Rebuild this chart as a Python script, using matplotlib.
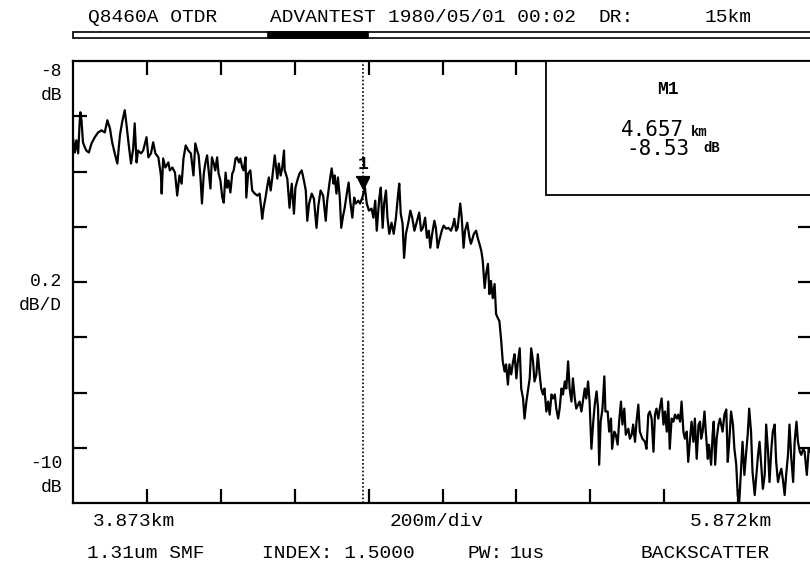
import matplotlib
matplotlib.use("Agg")
import matplotlib.pyplot as plt
from matplotlib.patches import Rectangle

# OTDR trace (distance in km, level in dB)
dist_km = [
    3.873, 3.878, 3.882, 3.887, 3.891, 3.893, 3.896, 3.900, 3.905, 3.909,
    3.916, 3.923, 3.932, 3.941, 3.950, 3.959, 3.966, 3.973, 3.979, 3.986,
    3.993, 4.000, 4.006, 4.013, 4.018, 4.024, 4.030, 4.036, 4.040, 4.045,
    4.049, 4.057, 4.063, 4.072, 4.077, 4.084, 4.090, 4.096, 4.104, 4.111,
    4.113, 4.117, 4.123, 4.131, 4.135, 4.142, 4.149, 4.155, 4.161, 4.167,
    4.172, 4.178, 4.185, 4.192, 4.199, 4.204,
    4.209, 4.213, 4.218, 4.222, 4.227, 4.231, 4.236, 4.240, 4.245, 4.249,
    4.254, 4.258, 4.263, 4.267, 4.272, 4.277, 4.281, 4.286, 4.290, 4.294,
    4.299, 4.304, 4.308, 4.313, 4.317, 4.322, 4.326, 4.331, 4.335, 4.340,
    4.342, 4.347, 4.353, 4.358, 4.365, 4.372, 4.378, 4.383, 4.385, 4.389,
    4.394, 4.399, 4.403, 4.408, 4.412, 4.419, 4.426, 4.430, 4.435, 4.439,
    4.444, 4.446, 4.453, 4.459, 4.465, 4.471, 4.475, 4.480, 4.486, 4.492,
    4.498, 4.503, 4.507, 4.512, 4.519, 4.525, 4.532, 4.537, 4.543, 4.550,
    4.557, 4.561, 4.568, 4.573, 4.578, 4.581, 4.586, 4.590, 4.595, 4.599,
    4.604, 4.608, 4.614, 4.619, 4.623, 4.629, 4.634, 4.638, 4.645, 4.650,
    4.656, 4.663, 4.668, 4.674, 4.681, 4.686, 4.691, 4.695, 4.702, 4.706,
    4.711, 4.715, 4.720, 4.724, 4.729, 4.735, 4.741, 4.747, 4.753, 4.756,
    4.760, 4.765, 4.769, 4.774, 4.780, 4.786, 4.791, 4.797, 4.804, 4.810,
    4.815, 4.820, 4.826, 4.831, 4.836, 4.840, 4.845, 4.851, 4.855, 4.860,
    4.864, 4.871, 4.876, 4.883, 4.889, 4.896, 4.901, 4.905, 4.910, 4.914,
    4.921, 4.925, 4.930, 4.934, 4.940, 4.946, 4.950, 4.958, 4.964, 4.969,
    4.973, 4.978, 4.982, 4.987, 4.991, 4.996, 5.000, 5.004, 5.009, 5.014,
    5.018, 5.023, 5.027, 5.032, 5.036, 5.041, 5.045, 5.050, 5.054, 5.059,
    5.064, 5.068, 5.073, 5.077, 5.082, 5.086, 5.091, 5.095, 5.100, 5.104,
    5.109, 5.113, 5.118, 5.122, 5.127, 5.131, 5.136, 5.140, 5.145, 5.149,
    5.154, 5.159, 5.163, 5.168, 5.172, 5.177, 5.181, 5.186, 5.190, 5.195,
    5.199, 5.204, 5.208, 5.213, 5.217, 5.222, 5.226, 5.231, 5.235, 5.240,
    5.244, 5.249, 5.258, 5.262, 5.267, 5.271,
    5.276, 5.281, 5.285, 5.290, 5.294, 5.297, 5.301, 5.306, 5.311, 5.314,
    5.320, 5.324, 5.329, 5.332, 5.338, 5.342, 5.347, 5.351, 5.356, 5.360,
    5.365, 5.369, 5.376, 5.380, 5.385, 5.389, 5.394, 5.398, 5.403, 5.407,
    5.414, 5.421, 5.425, 5.430, 5.434, 5.439, 5.444, 5.448, 5.452, 5.457,
    5.461, 5.466, 5.471, 5.475, 5.480, 5.484, 5.488, 5.493, 5.498, 5.502,
    5.507, 5.511, 5.516, 5.520, 5.525, 5.529, 5.534, 5.538, 5.543, 5.547,
    5.552, 5.556, 5.561, 5.566, 5.570,
    5.573, 5.577, 5.582, 5.585, 5.591, 5.594, 5.600, 5.604, 5.607, 5.611,
    5.615, 5.620, 5.624, 5.631, 5.636, 5.641, 5.645, 5.649, 5.654, 5.659,
    5.663, 5.668, 5.672, 5.676, 5.681, 5.685, 5.690, 5.695, 5.699, 5.703,
    5.708, 5.712, 5.718, 5.721, 5.727, 5.731, 5.735, 5.740, 5.745, 5.749,
    5.754, 5.758, 5.763, 5.767, 5.772, 5.776, 5.781, 5.785, 5.790, 5.794,
    5.799, 5.803, 5.808, 5.812, 5.817, 5.822, 5.826, 5.831, 5.835, 5.840,
    5.844, 5.849, 5.853, 5.859, 5.864, 5.868,
]
level_db = [
    -8.350, -8.414, -8.359, -8.418, -8.277, -8.232, -8.268, -8.368, -8.391, -8.405,
    -8.414, -8.373, -8.345, -8.323, -8.314, -8.323, -8.268, -8.305, -8.368, -8.418,
    -8.464, -8.336, -8.277, -8.223, -8.291, -8.382, -8.464, -8.395, -8.282, -8.459,
    -8.405, -8.418, -8.405, -8.345, -8.436, -8.418, -8.368, -8.418, -8.436, -8.518,
    -8.600, -8.441, -8.482, -8.459, -8.495, -8.482, -8.505, -8.609, -8.518, -8.555,
    -8.441, -8.382, -8.405, -8.418, -8.518, -8.373,
    -8.405, -8.427, -8.527, -8.645, -8.509, -8.464, -8.427, -8.495, -8.577, -8.436,
    -8.464, -8.495, -8.436, -8.509, -8.541, -8.618, -8.641, -8.505, -8.573, -8.541,
    -8.595, -8.509, -8.495, -8.441, -8.436, -8.459, -8.441, -8.482, -8.495, -8.436,
    -8.618, -8.509, -8.495, -8.586, -8.600, -8.609, -8.600, -8.677, -8.714, -8.664,
    -8.618, -8.564, -8.527, -8.586, -8.532, -8.427, -8.532, -8.464, -8.518, -8.486,
    -8.405, -8.495, -8.532, -8.664, -8.555, -8.691, -8.573, -8.541, -8.509, -8.495,
    -8.541, -8.586, -8.723, -8.645, -8.600, -8.623, -8.755, -8.655, -8.586, -8.609,
    -8.723, -8.632, -8.541, -8.486, -8.555, -8.518, -8.600, -8.527, -8.618, -8.755,
    -8.700, -8.668, -8.600, -8.550, -8.632, -8.709, -8.618, -8.645, -8.632, -8.645,
    -8.618, -8.573, -8.645, -8.677, -8.668, -8.709, -8.632, -8.768, -8.618, -8.573,
    -8.755, -8.645, -8.586, -8.709, -8.782, -8.732, -8.782, -8.709, -8.600, -8.555,
    -8.691, -8.736, -8.891, -8.782, -8.736, -8.677, -8.709, -8.768, -8.723, -8.686,
    -8.768, -8.755, -8.709, -8.800, -8.768, -8.845, -8.782, -8.723, -8.755, -8.845,
    -8.814, -8.768, -8.745, -8.759, -8.755, -8.768, -8.745, -8.714, -8.768, -8.755,
    -8.645, -8.709, -8.845, -8.768, -8.732, -8.800, -8.827, -8.782, -8.768, -8.805,
    -8.827, -8.859, -8.905, -9.027, -8.964, -8.918, -9.055, -8.995, -9.073, -9.009,
    -9.145, -9.164, -9.177, -9.268, -9.359, -9.405, -9.373, -9.464, -9.373, -9.418,
    -9.359, -9.327, -9.436, -9.359, -9.300, -9.482, -9.527, -9.618, -9.541, -9.495,
    -9.436, -9.300, -9.359, -9.450, -9.418, -9.327, -9.418, -9.482, -9.509, -9.482,
    -9.586, -9.541, -9.600, -9.509, -9.527, -9.509, -9.573, -9.618, -9.573, -9.482,
    -9.509, -9.450, -9.482, -9.359, -9.482, -9.541, -9.436, -9.527, -9.573, -9.555,
    -9.541, -9.586, -9.482, -9.527, -9.450, -9.541,
    -9.755, -9.632, -9.555, -9.495, -9.573, -9.827, -9.632, -9.573, -9.427, -9.586,
    -9.586, -9.677, -9.618, -9.755, -9.677, -9.691, -9.736, -9.632, -9.541, -9.645,
    -9.573, -9.691, -9.664, -9.709, -9.691, -9.645, -9.723, -9.632, -9.555, -9.677,
    -9.709, -9.723, -9.755, -9.600, -9.586, -9.618, -9.768, -9.600, -9.573, -9.618,
    -9.573, -9.527, -9.645, -9.586, -9.677, -9.541, -9.755, -9.618, -9.632, -9.600,
    -9.618, -9.600, -9.632, -9.541, -9.677, -9.709, -9.677, -9.814, -9.709, -9.632,
    -9.723, -9.618, -9.800, -9.645, -9.632,
    -9.709, -9.677, -9.586, -9.664, -9.800, -9.736, -9.827, -9.691, -9.632, -9.827,
    -9.709, -9.645, -9.618, -9.677, -9.600, -9.577, -9.814, -9.723, -9.586, -9.645,
    -9.755, -9.827, -9.964, -10.000, -9.845, -9.723, -9.873, -9.768, -9.691, -9.573,
    -9.677, -9.859, -9.964, -9.905, -9.782, -9.723, -9.814, -9.936, -9.873, -9.645,
    -9.768, -9.905, -9.755, -9.677, -9.645, -9.814, -9.905, -9.873, -9.845, -9.891,
    -9.964, -9.873, -9.782, -9.645, -9.800, -9.905, -9.723, -9.632, -9.723, -9.768,
    -9.782, -9.755, -9.768, -9.873, -9.755, -9.768,
]

x_start_km = 3.873
x_span_km = 2.0
div_km = 0.2
y_top_db = -8.0
y_bottom_db = -10.0
div_db = 0.25

marker_km = 4.657
marker_db = -8.53

W, H = 810, 569
MONO = ["Liberation Mono", "DejaVu Sans Mono"]


def fx(px):
    return px / W


def fy(py):
    return 1 - py / H


fig = plt.figure(figsize=(W / 100, H / 100), dpi=100)
fig.patch.set_facecolor("white")

# plot window: left edge x=73, top y=61, bottom y=503, runs off the right side
ax = fig.add_axes([fx(73), fy(503), fx(739), (503 - 61) / H])
ax.plot(dist_km, level_db, color="black", lw=1.6, zorder=3)
ax.set_xlim(x_start_km, x_start_km + x_span_km)
ax.set_ylim(y_bottom_db, y_top_db)

ax.set_xticks([x_start_km + div_km * k for k in range(1, 10)])
ax.set_yticks([y_bottom_db + div_db * k for k in range(1, 8)])
ax.tick_params(axis="both", direction="in", length=10, width=1.6,
               top=True, right=True, labelbottom=False, labelleft=False)
for side in ["left", "bottom", "top"]:
    ax.spines[side].set_linewidth(1.6)
ax.spines["right"].set_visible(False)

# marker 1
ax.axvline(marker_km, color="black", lw=1.2, ls=(0, (1, 1.3)), zorder=2)
ax.plot(marker_km, marker_db - 0.02, marker="v", ms=8, color="black", zorder=4)
ax.plot(marker_km, marker_db + 0.005, marker="_", ms=10, mew=1.6, color="black", zorder=4)
ax.text(marker_km, marker_db + 0.025, "1", ha="center", va="bottom",
        fontsize=13, fontweight="bold", family=MONO, zorder=4)

# marker readout box
x0 = (546 - 73) / 739
y0 = (503 - 195) / (503 - 61)
ax.add_patch(Rectangle((x0, y0), 1.05 - x0, 1 - y0, transform=ax.transAxes,
                       facecolor="white", edgecolor="black", lw=1.3,
                       clip_on=False, zorder=5))

fig.text(fx(668), fy(90), "M1", ha="center", va="center", fontsize=13,
         fontweight="bold", family=MONO)
fig.text(fx(684), fy(136), "4.657", ha="right", va="baseline", fontsize=15,
         family="DejaVu Sans Mono")
fig.text(fx(691), fy(136), "km", ha="left", va="baseline", fontsize=10,
         fontweight="bold", family=MONO)
fig.text(fx(690), fy(155), "-8.53", ha="right", va="baseline", fontsize=15,
         family="DejaVu Sans Mono")
fig.text(fx(703), fy(152), "dB", ha="left", va="baseline", fontsize=10,
         fontweight="bold", family=MONO)

# header line
header = [("Q8460A OTDR", 88), ("ADVANTEST", 270), ("1980/05/01 00:02", 388),
          ("DR:", 598), ("15km", 705)]
for label, px in header:
    fig.text(fx(px), fy(18), label, ha="left", va="center", fontsize=14,
             family=MONO)
fig.patches.append(Rectangle((fx(73), fy(38)), fx(740), (38 - 32) / H,
                             transform=fig.transFigure, facecolor="white",
                             edgecolor="black", lw=1.2))
fig.patches.append(Rectangle((fx(268), fy(38)), fx(100), (38 - 32) / H,
                             transform=fig.transFigure, facecolor="black",
                             edgecolor="black", lw=1.2))

# y-axis labels
ylabels = [("-8", 71), ("dB", 96), ("0.2", 281), ("dB/D", 305),
           ("-10", 464), ("dB", 488)]
for label, py in ylabels:
    fig.text(fx(62), fy(py), label, ha="right", va="center", fontsize=13,
             family=MONO)

# x-axis labels
xlabels = [("3.873km", 93), ("200m/div", 390), ("5.872km", 690)]
for label, px in xlabels:
    fig.text(fx(px), fy(521), label, ha="left", va="center", fontsize=14,
             family=MONO)

footer = [("1.31um SMF", 87), ("INDEX: 1.5000", 262), ("PW:", 468),
          ("1us", 510), ("BACKSCATTER", 640)]
for label, px in footer:
    fig.text(fx(px), fy(553), label, ha="left", va="center", fontsize=14,
             family=MONO)

fig.savefig("out.png", dpi=100)
